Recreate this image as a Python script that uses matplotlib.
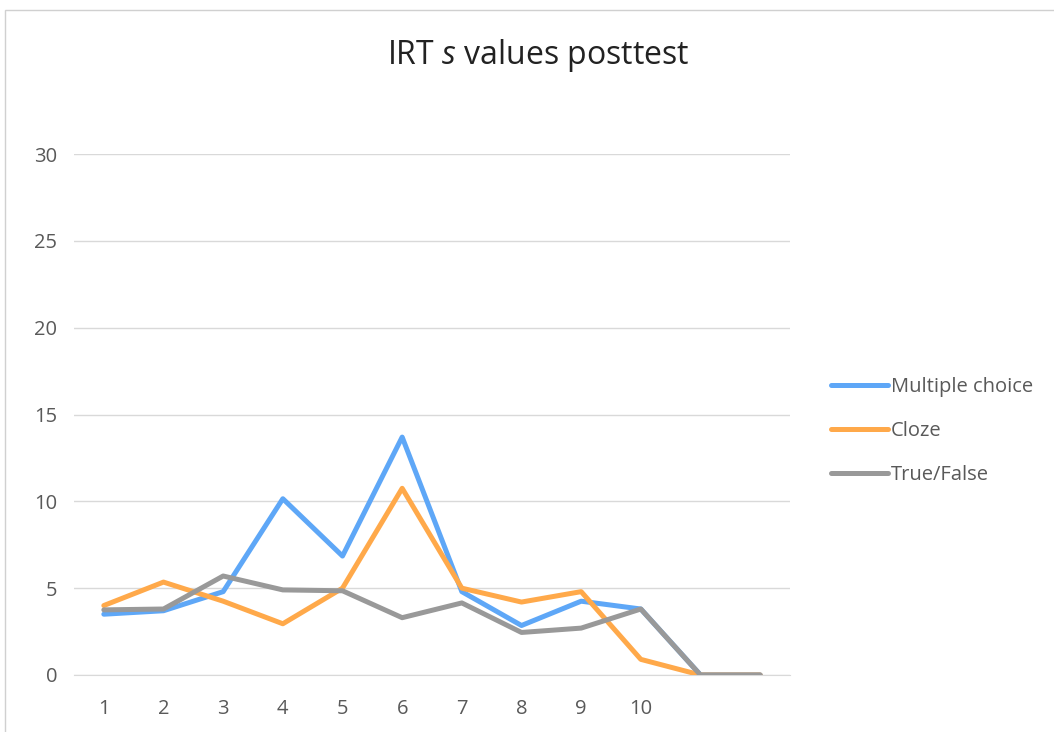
import matplotlib
matplotlib.use("Agg")
import matplotlib.pyplot as plt
from matplotlib.patches import Rectangle

# --- данные ---
categories = list(range(1, 13))
tick_labels = ["1", "2", "3", "4", "5", "6", "7", "8", "9", "10", "", ""]
multiple_choice = [3.5, 3.7, 4.8, 10.15, 6.85, 13.7, 4.8, 2.85, 4.25, 3.8, 0, 0]
cloze = [4.0, 5.35, 4.25, 2.95, 5.0, 10.75, 5.0, 4.2, 4.8, 0.9, 0, 0]
true_false = [3.75, 3.8, 5.7, 4.9, 4.85, 3.3, 4.15, 2.45, 2.7, 3.8, 0, 0]

SERIES = [
    ("Multiple choice", multiple_choice, "#5EA7F7"),
    ("Cloze", cloze, "#FFA94A"),
    ("True/False", true_false, "#999999"),
]

plt.rcParams["font.family"] = ["Open Sans", "DejaVu Sans"]
plt.rcParams["mathtext.fontset"] = "custom"
plt.rcParams["mathtext.it"] = "Open Sans:italic"
plt.rcParams["mathtext.rm"] = "Open Sans"

TXT = "#595959"

fig = plt.figure(figsize=(10.54, 7.32), dpi=100)
ax = fig.add_axes([74 / 1054, 1 - 675 / 732, 716 / 1054, 521 / 732])

for name, vals, color in SERIES:
    ax.plot(categories, vals, color=color, lw=3.6, label=name,
            solid_capstyle="round", solid_joinstyle="round", zorder=3)

ax.set_xlim(0.5, 12.5)
ax.set_ylim(0, 30)
ax.set_yticks(range(0, 31, 5))
ax.set_xticks(categories)
ax.set_xticklabels(tick_labels)
ax.tick_params(axis="both", length=0, labelsize=14.5, colors=TXT)
ax.tick_params(axis="y", pad=12)
ax.tick_params(axis="x", pad=17)
ax.grid(axis="y", color="#D9D9D9", lw=1)
ax.set_axisbelow(True)
for s in ("top", "right", "left"):
    ax.spines[s].set_visible(False)
ax.spines["bottom"].set_color("#D9D9D9")

fig.text(538 / 1054, 1 - 56 / 732, r"IRT $\mathit{s}$ values posttest",
         ha="center", va="center", fontsize=23, color="#222222")

fig.legend(loc="center left", bbox_to_anchor=(813 / 1054, 1 - 431 / 732),
           frameon=False, fontsize=14.5, handlelength=2.8, handletextpad=0.15,
           labelspacing=1.2, labelcolor=TXT)

# рамка области диаграммы
fig.patches.append(Rectangle((5 / 1054, -0.1), 1.2, 1 - 10 / 732 + 0.1,
                             transform=fig.transFigure, fill=False,
                             edgecolor="#D0D0D0", lw=1))

fig.savefig("out.png", dpi=100)
